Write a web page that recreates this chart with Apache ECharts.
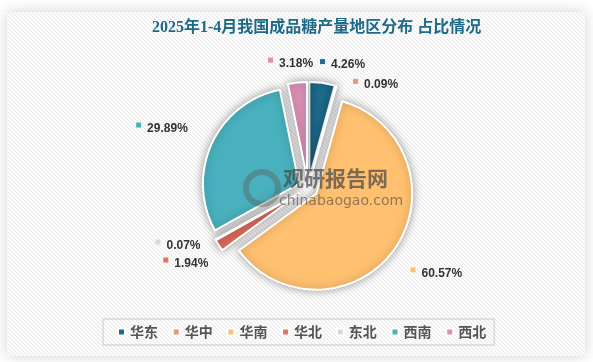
<!DOCTYPE html>
<html><head><meta charset="utf-8">
<script src="https://cdn.jsdelivr.net/npm/echarts@6/dist/echarts.min.js"></script>
<style>html,body{margin:0;padding:0;background:#fff}#c{width:593px;height:362px}</style>
</head><body><div id="c"></div>
<script>
const categories = ['华东','华中','华南','华北','东北','西南','西北'];
const shares = [4.26, 0.09, 60.57, 1.94, 0.07, 29.89, 3.18];
const titleText = '2025年1-4月我国成品糖产量地区分布 占比情况';

const colors = ['#1e6b8c','#e8987a','#ffc070','#e8705f','#d3e0cf','#48b1bd','#dd8fb6'];
const lineLen = [18, 1, 44, 12, 12, 36, 19];
const lineLen2 = [13, 34, 0, 18, 20, 21, 0];

const pat = document.createElement('canvas'); pat.width = 4; pat.height = 4;
const g = pat.getContext('2d');
g.fillStyle = '#fbfbfb'; g.fillRect(0,0,4,4);
g.fillStyle = '#e9e9e9'; for (let i = 0; i < 4; i++) g.fillRect(i, i, 1, 1);

const rich = {v:{fontSize:12,fontWeight:'bold',color:'#333',fontFamily:'"Liberation Sans", sans-serif',padding:[0,0,0,6]}};
colors.forEach((c,i)=>{ rich['m'+i] = {width:5,height:5,backgroundColor:c,verticalAlign:'top'}; });

const chart = echarts.init(document.getElementById('c'), null, {renderer:'canvas'});
chart.setOption({
  animation:false,
  backgroundColor:'#ffffff',
  color: colors,
  graphic:[
    {type:'rect', z:-10, shape:{x:7,y:12,width:578,height:344}, style:{fill:{image:pat,repeat:'repeat'}, shadowBlur:14, shadowColor:'rgba(0,0,0,0.18)'}},
    {type:'circle', z:100, shape:{cx:262,cy:188,r:16}, style:{fill:'none', stroke:'rgba(90,90,90,0.4)', lineWidth:6}},
    {type:'text', z:100, left:283, top:168, style:{text:'观研报告网', font:'bold 21px "Noto Sans CJK SC"', fill:'rgba(70,70,70,0.7)'}},
    {type:'text', z:100, left:279, top:194, style:{text:'chinabaogao.com', font:'14px "DejaVu Sans"', fill:'rgba(70,70,70,0.6)'}}
  ],
  title:{text:titleText, left:152, top:20, padding:0,
    textStyle:{fontSize:16,fontWeight:'bold',color:'#1e6a8a',fontFamily:'"Liberation Serif", "Noto Sans CJK SC"'}},
  legend:{left:103, top:319, itemWidth:7, itemHeight:7, itemGap:13.7, icon:'rect', selectedMode:false,
    padding:[6,8,6,14], borderColor:'#d9d9d9', borderWidth:1.5,
    textStyle:{fontSize:14,color:'#555',fontWeight:'bold',fontFamily:'"Noto Sans CJK SC"'}, data:categories},
  series:[{
    type:'pie', center:[308,188], radius:96, startAngle:90, clockwise:true,
    selectedMode:'multiple', selectedOffset:10, avoidLabelOverlap:true,
    emphasis:{disabled:true},
    itemStyle:{borderColor:'#fff',borderWidth:2,shadowBlur:8,shadowColor:'rgba(0,0,0,0.35)'},
    label:{show:true, position:'outside', formatter:p=>`{m${p.dataIndex}|}{v|${p.value.toFixed(2)}%}`, rich},
    labelLine:{show:false, length:30, length2:0},
    labelLayout:{align:'center'},
    data: categories.map((n,i)=>({name:n, value:shares[i], selected:true, labelLine:{show:false,length:lineLen[i],length2:lineLen2[i]}}))
  }]
});
</script></body></html>
